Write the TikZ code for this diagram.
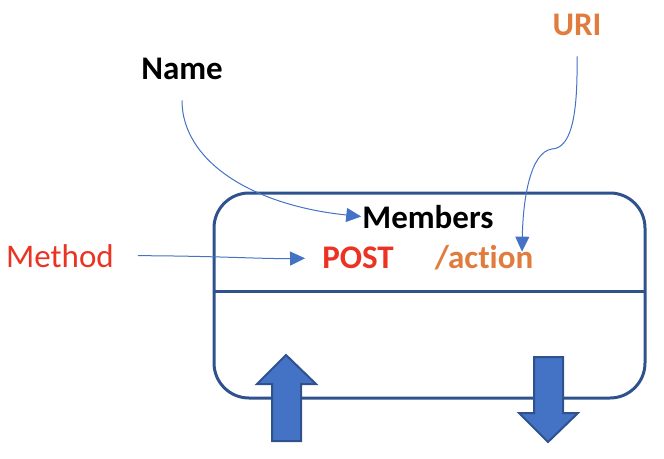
\documentclass[tikz,border=0pt]{standalone}
\usepackage{fontspec}
\setmainfont{Carlito}[Ligatures=NoCommon]
\usetikzlibrary{arrows.meta}
\definecolor{boxblue}{RGB}{47,82,143}
\definecolor{fillblue}{RGB}{68,114,196}
\definecolor{linkblue}{RGB}{68,114,196}
\definecolor{mred}{RGB}{234,51,35}
\definecolor{morange}{RGB}{224,124,62}
\begin{document}
\begin{tikzpicture}[x=1pt,y=-1pt,
  lbl/.style={inner sep=0pt,anchor=base,font=\fontsize{33}{36}\selectfont\bfseries},
  link/.style={draw=linkblue,line width=1pt,-{Triangle[length=15pt,width=14pt]}},
  blockarrow/.style={fill=fillblue,draw=boxblue,line width=2pt,line join=miter}]
\useasboundingbox (0,0) rectangle (664,458);
% box
\draw[boxblue,line width=3pt,rounded corners=35pt] (214,193) rectangle (645,398);
\draw[boxblue,line width=3pt] (214,291) -- (645,291);
% texts
\node[lbl] (members) at (428,228) {Members};
\node[lbl,text=mred] (post) at (358,268) {POST};
\node[lbl,text=morange] (action) at (484,268) {/action};
\node[lbl,text=mred,font=\fontsize{33}{36}\selectfont] (method) at (60,267) {Method};
\node[lbl] (name) at (182,79) {Name};
\node[lbl,text=morange] (uri) at (577,35) {URI};
% connectors
\draw[link] ([yshift=-21pt]name.south) .. controls (182,160) and (250,205) .. ([xshift=-1pt]members.west);
\draw[link] ([xshift=24pt]method.east) .. controls (220,256) and (260,259) .. ([xshift=-17pt,yshift=-1pt]post.west);
\draw[link] ([yshift=-21pt]uri.south) .. controls (578,120) and (570,148) .. (552,149) .. controls (530,152) and (523,200) .. ([xshift=38pt,yshift=-7pt]action.north);
% block arrows
\path[blockarrow] (272,441) -- (272,384) -- (257,384) -- (286,355) -- (316,384) -- (301,384) -- (301,441) -- cycle;
\path[blockarrow] (534,357) -- (534,413) -- (519,413) -- (548,442) -- (578,413) -- (563,413) -- (563,357) -- cycle;
\end{tikzpicture}
\end{document}
